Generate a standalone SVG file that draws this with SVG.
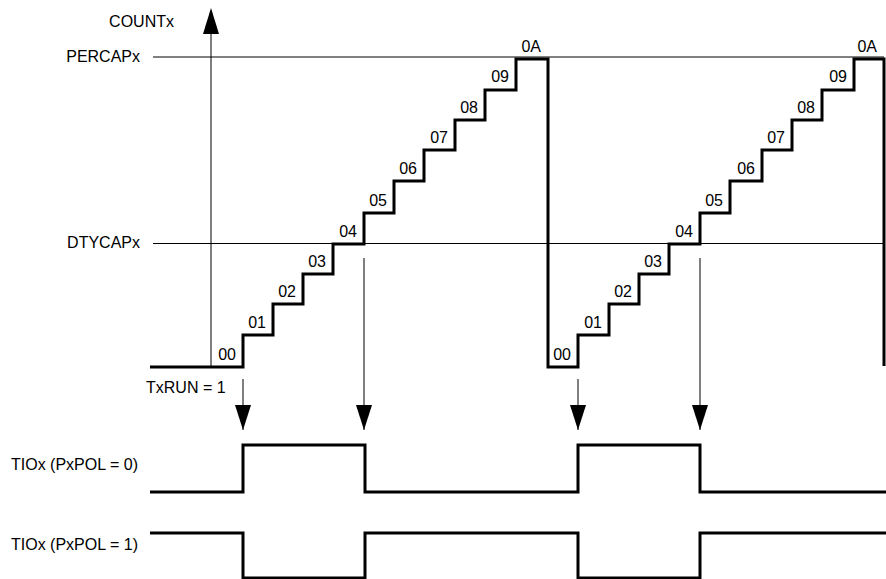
<svg xmlns="http://www.w3.org/2000/svg" width="886" height="579" viewBox="0 0 886 579">
<style>
text{font-family:"Liberation Sans",Arial,sans-serif;font-size:16px;fill:#000}
.e{text-anchor:end}
.thin{stroke:#000;stroke-width:1;fill:none}
.thick{stroke:#000;stroke-width:3;fill:none;stroke-linejoin:miter}
</style>
<defs>
<marker id="ah" markerUnits="userSpaceOnUse" markerWidth="26" markerHeight="16" refX="25" refY="8" orient="auto" viewBox="0 0 26 16">
<polygon points="0,0 25,8 0,16" fill="#000"/>
</marker>
</defs>
<g id="labels">
<text id="count" class="e" x="174" y="27">COUNTx</text>
<text id="percap" class="e" x="140" y="62">PERCAPx</text>
<text id="dtycap" class="e" x="140" y="248">DTYCAPx</text>
<text id="txrun" x="146" y="393">TxRUN = 1</text>
<text id="tio0" class="e" x="138" y="470">TIOx (PxPOL = 0)</text>
<text id="tio1" class="e" x="138" y="550">TIOx (PxPOL = 1)</text>
</g>
<g id="axes">
<line class="thin" x1="153" y1="57" x2="884" y2="57"/>
<line class="thin" x1="153" y1="243.5" x2="884" y2="243.5"/>
<line class="thin" x1="211" y1="33" x2="211" y2="367"/>
<polygon points="211,8 203,34 219,34" fill="#000"/>
</g>
<g id="counter">
<path class="thick" d="M150,367 H243 V335 H273 V304 H303 V274 H333 V244 H364 V213 H394 V181 H424 V150 H455 V120 H485 V90 H516 V59 H548 V367 H578 V335 H609 V304 H639 V274 H669 V244 H700 V213 H730 V181 H762 V150 H792 V120 H822 V90 H854 V59 H884 V366"/>
</g>
<g id="counts">
<text class="e" x="236" y="360">00</text>
<text class="e" x="266" y="328">01</text>
<text class="e" x="296" y="297">02</text>
<text class="e" x="326" y="267">03</text>
<text class="e" x="357" y="237">04</text>
<text class="e" x="387" y="206">05</text>
<text class="e" x="417" y="174">06</text>
<text class="e" x="448" y="143">07</text>
<text class="e" x="478" y="113">08</text>
<text class="e" x="509" y="82">09</text>
<text class="e" x="541" y="52">0A</text>
<text class="e" x="571" y="360">00</text>
<text class="e" x="602" y="328">01</text>
<text class="e" x="632" y="297">02</text>
<text class="e" x="662" y="267">03</text>
<text class="e" x="693" y="237">04</text>
<text class="e" x="723" y="206">05</text>
<text class="e" x="755" y="174">06</text>
<text class="e" x="785" y="143">07</text>
<text class="e" x="815" y="113">08</text>
<text class="e" x="847" y="82">09</text>
<text class="e" x="877" y="52">0A</text>
</g>
<g id="connectors">
<line class="thin" x1="243" y1="379" x2="243" y2="430" marker-end="url(#ah)"/>
<line class="thin" x1="364" y1="258" x2="364" y2="430" marker-end="url(#ah)"/>
<line class="thin" x1="578" y1="379" x2="578" y2="430" marker-end="url(#ah)"/>
<line class="thin" x1="700" y1="258" x2="700" y2="430" marker-end="url(#ah)"/>
</g>
<g id="tio-pol0">
<path class="thick" d="M150,492 H243 V445 H365 V492 H578 V445 H700 V492 H886"/>
</g>
<g id="tio-pol1">
<path class="thick" d="M150,533 H243 V578 H365 V533 H578 V578 H700 V533 H886"/>
</g>
</svg>
